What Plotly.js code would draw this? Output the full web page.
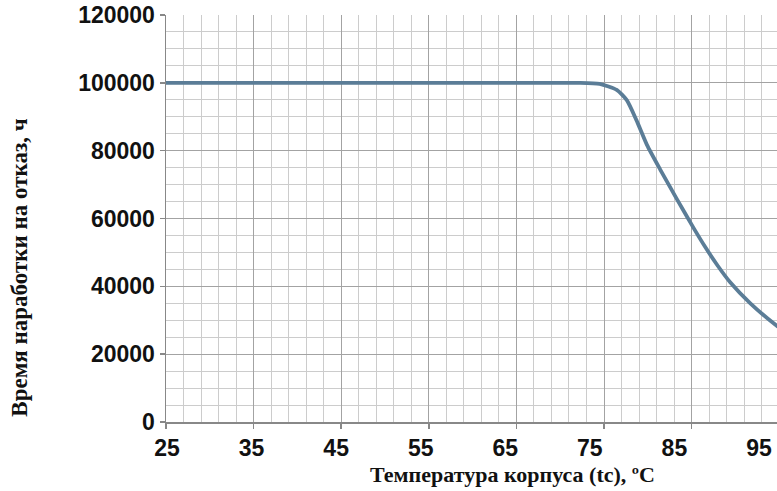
<!DOCTYPE html>
<html>
<head>
<meta charset="utf-8">
<script src="https://cdn.plot.ly/plotly-3.0.1.min.js"></script>
<style>
html, body { margin: 0; padding: 0; overflow: hidden; background: #ffffff; }
#chart { width: 790px; height: 491px; }
</style>
</head>
<body>
<div id="chart"></div>
<script>
// Data
const temperatures = [25, 35, 45, 55, 65, 70, 72, 74.5, 76.45, 77.6, 78.7, 79.9, 81.4, 83.3, 85.2, 86.5, 88, 89.4, 91.7, 94.75, 96.2];
const mtbfHours    = [100000, 100000, 100000, 100000, 100000, 100000, 100000, 99700, 97900, 94900, 89000, 81700, 74500, 65800, 57300, 51800, 46000, 41200, 35000, 28300, 25700];
const xTickValues  = [25, 35, 45, 55, 65, 75, 85, 95];
const yTickValues  = [0, 20000, 40000, 60000, 80000, 100000, 120000];
const xTitleText = "Температура корпуса (tc), ºC";
const yTitleText = "Время наработки на отказ, ч";

const curve = {
  x: temperatures,
  y: mtbfHours,
  type: "scatter",
  mode: "lines",
  line: { color: "#5b7d97", width: 3.8, shape: "spline", smoothing: 0.6 },
  hoverinfo: "skip"
};
// carrier for the tick-label axis (no visible marks)
const labelCarrier = {
  x: xTickValues,
  y: xTickValues.map(() => null),
  xaxis: "x2",
  yaxis: "y",
  type: "scatter",
  mode: "lines",
  hoverinfo: "skip",
  showlegend: false
};

const tickFont = { family: "Liberation Sans, Arial, sans-serif", size: 23, color: "#111111", weight: "bold" };
const titleFont = { family: "Liberation Serif, Times New Roman, serif", size: 22, color: "#111111" };

const layout = {
  width: 790,
  height: 491,
  margin: { l: 166, r: 0, t: 15, b: 69, pad: 0 },
  paper_bgcolor: "#ffffff",
  plot_bgcolor: "#ffffff",
  showlegend: false,
  xaxis: {
    range: [25, 96.23],
    tickmode: "array",
    tickvals: xTickValues,
    showticklabels: false,
    ticks: "outside",
    ticklen: 5,
    tickwidth: 1.5,
    tickcolor: "#888888",
    showline: true,
    linecolor: "#888888",
    linewidth: 1.5,
    showgrid: true,
    gridcolor: "#a3a3a3",
    gridwidth: 1,
    zeroline: false,
    minor: { tick0: 25, dtick: 2, showgrid: true, gridcolor: "#cccccc", gridwidth: 1, ticks: "" }
  },
  xaxis2: {
    overlaying: "x",
    anchor: "y",
    side: "bottom",
    range: [24.88, 98.67],
    tickmode: "array",
    tickvals: xTickValues,
    ticktext: xTickValues.map(String),
    ticks: "",
    tickfont: tickFont,
    ticklabelstandoff: 10,
    showline: false,
    showgrid: false,
    zeroline: false
  },
  yaxis: {
    range: [0, 120000],
    tickmode: "array",
    tickvals: yTickValues,
    ticktext: yTickValues.map(String),
    ticks: "outside",
    ticklen: 5,
    tickwidth: 1.5,
    tickcolor: "#888888",
    tickfont: tickFont,
    ticklabelstandoff: 0,
    showline: true,
    linecolor: "#888888",
    linewidth: 1.5,
    showgrid: true,
    gridcolor: "#a3a3a3",
    gridwidth: 1,
    zeroline: false,
    minor: { tick0: 0, dtick: 5000, showgrid: true, gridcolor: "#cccccc", gridwidth: 1, ticks: "" }
  },
  annotations: [
    {
      text: "<b>" + xTitleText + "</b>",
      xref: "paper", yref: "paper",
      x: 0.555, y: -0.128,
      xanchor: "center", yanchor: "middle",
      showarrow: false,
      font: titleFont
    },
    {
      text: "<b>" + yTitleText + "</b>",
      xref: "paper", yref: "paper",
      x: -0.235, y: 0.38,
      xanchor: "center", yanchor: "middle",
      textangle: -90,
      showarrow: false,
      font: Object.assign({}, titleFont, { size: 23 })
    }
  ]
};

Plotly.newPlot("chart", [curve, labelCarrier], layout, { displayModeBar: false, staticPlot: true });
</script>
</body>
</html>
